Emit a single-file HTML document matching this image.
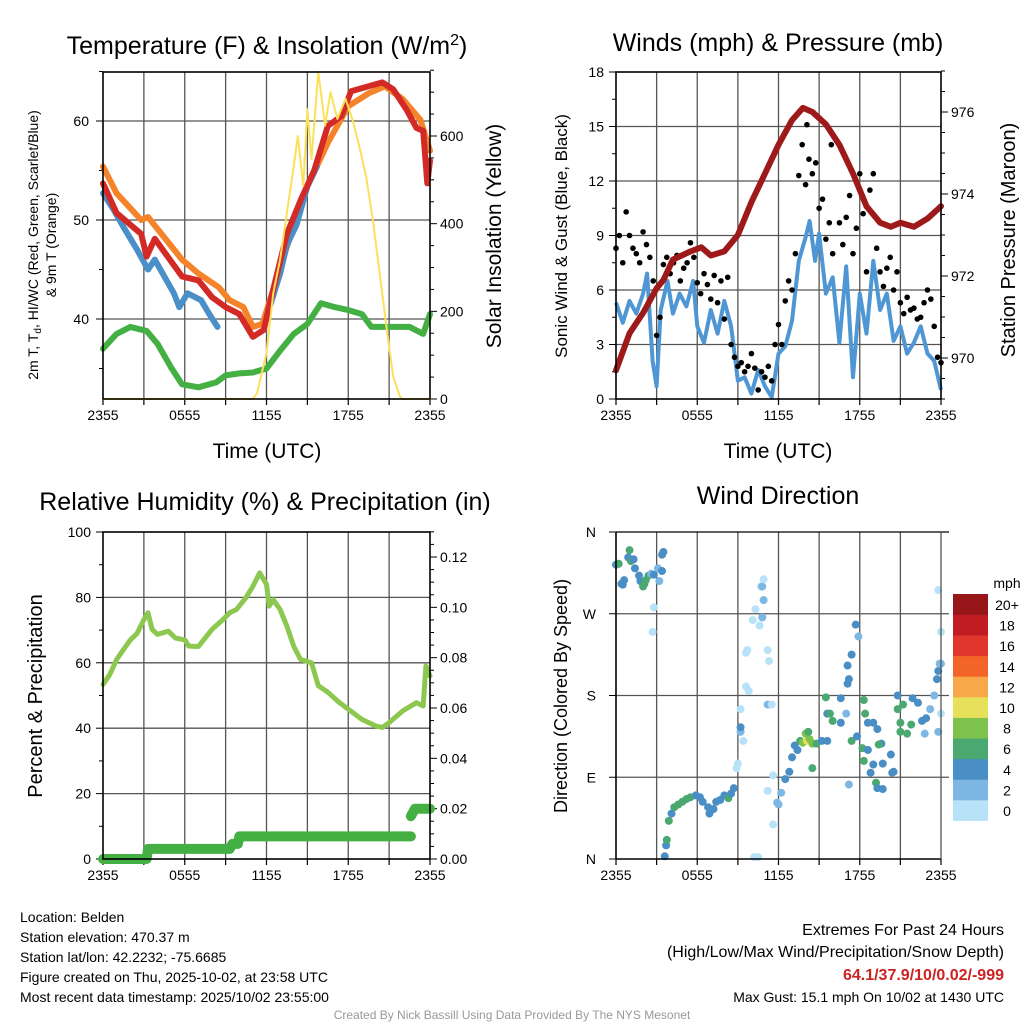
<!DOCTYPE html>
<html><head><meta charset="utf-8">
<style>
html,body{margin:0;padding:0;background:#fff;}
svg{display:block;font-family:"Liberation Sans",Arial,sans-serif;}
</style></head>
<body>
<svg id="c" width="1024" height="1024" viewBox="0 0 1024 1024" xmlns="http://www.w3.org/2000/svg"></svg>
<script>
// ---------- DATA ----------
const tempHours=[0,1,2.8,3.2,3.8,5.8,7,8,9,10,11,11.8,12.3,13.5,14.5,15.5,16.5,17.5,18.2,19.5,20.5,21.3,22.3,23,23.5,23.8,24];
const tempVals=[53.7,50.7,48.6,46.3,48.1,44.3,43.9,42.2,41.2,40.5,38.2,38.9,41.9,48.6,52,55,59.5,60.5,63,63.5,63.9,63.2,61.1,59.3,59,53.7,56];
const t9Hours=[0,1,2.8,3.3,5.8,7,8.5,9.3,10.3,11,11.7,13.5,15,16.5,18,19.5,20.7,22,23.3,24];
const t9Vals=[55.4,52.7,50,50.3,46,44.6,43.2,41.9,41.2,39.2,39.5,47.3,53.4,57.8,61.5,62.8,63.5,62.2,60.1,57];
const hiHours=[0,0.8,1.5,2.5,3.3,3.8,5.2,5.6,6.2,7.2,7.8,8.4,null,12.3,13,13.5,14.2,15,15.7];
const hiVals=[52.7,51,49.3,47,45,46,42.6,41.2,42.6,41.9,40.5,39.2,null,41.5,44.6,47.5,49.5,53.4,55.4];
const tdHours=[0,1,2,3.2,4,5,5.8,7,8.3,9,10,11,12,13,14,15,16,17,18,19,19.7,21,22.5,23.5,24];
const tdVals=[37,38.5,39.2,38.8,37.5,35.1,33.4,33.1,33.6,34.3,34.5,34.6,35,36.8,38.5,39.5,41.6,41.2,40.9,40.5,39.2,39.2,39.2,38.5,40.5];
const solHours=[0,11,11.3,12,12.5,13,13.5,14,14.3,14.7,15,15.3,15.8,16.3,16.7,17.2,17.8,18.3,18.8,19.3,19.8,20.3,20.8,21.3,21.8,22,24];
const solVals=[0,0,13,105,242,318,425,532,600,486,661,547,746,624,700,639,685,639,578,509,410,288,166,51,5,0,0];

const presHours=[0,1,2,3,3.5,4.2,5.5,6.3,7,8,9,10,11,12,13,13.8,14.5,15.5,16.5,17.5,18.5,19.5,20.3,21,22,23,24];
const presVals=[969.7,970.6,971.1,971.7,971.9,972.4,972.6,972.7,972.5,972.6,973.0,973.8,974.5,975.2,975.8,976.1,976.0,975.7,975.2,974.5,973.7,973.3,973.2,973.3,973.2,973.4,973.7];
const windHours=[0,0.5,1,1.5,2,2.3,2.7,3,3.3,3.8,4.2,4.7,5.2,5.7,6,6.5,7,7.5,8,8.5,9,9.5,10,10.5,11,11.5,12,12.5,13,13.5,14,14.3,14.7,15,15.5,16,16.5,17,17.5,18,18.5,19,19.5,20,20.5,21,21.5,22,22.5,23,23.5,24];
const windVals=[5.3,4.2,5.4,4.7,5.8,6.9,2.1,0.7,4.9,6.5,4.7,5.8,5.1,6.5,4.0,3.1,4.9,3.6,5.4,4.0,1.0,1.2,0.3,1.6,0.7,0.1,2.5,2.9,4.3,7.6,8.9,9.8,7.6,9.1,5.8,6.7,3.1,7.3,1.2,5.8,3.6,7.6,4.9,5.8,3.2,4.0,2.5,3.1,4.0,2.5,2.1,0.5];
const gustHours=[0,0.25,0.5,0.75,1,1.25,1.5,1.75,2,2.25,2.5,2.75,3,3.25,3.5,3.75,4,4.25,4.5,4.75,5,5.25,5.5,5.75,6,6.25,6.5,6.75,7,7.25,7.5,7.75,8,8.25,8.5,8.75,9,9.25,9.5,9.75,10,10.25,10.5,10.75,11,11.25,11.5,11.75,12,12.25,12.5,12.75,13,13.25,13.5,13.75,14,14.1,14.25,14.5,14.75,15,15.25,15.5,15.75,15.9,16,16.5,16.75,17,17.25,17.5,17.75,18,18.25,18.5,18.75,19,19.25,19.5,19.75,20,20.25,20.5,20.75,21,21.25,21.5,21.75,22,22.25,22.5,22.75,23,23.25,23.5,23.75,24];
const gustVals=[8.3,9.0,7.5,10.3,9.0,8.3,8.0,7.5,9.2,8.5,7.8,6.5,3.5,4.5,7.4,7.8,6.9,7.5,7.9,6.5,7.2,7.5,8.6,7.8,6.4,5.8,6.9,6.3,5.5,6.8,5.3,6.5,4.4,6.7,3.0,2.3,1.8,2.0,1.5,1.8,2.5,1.7,0.5,1.5,1.2,1.8,1.0,3.0,4.1,3.0,5.4,6.5,6.0,8.0,12.3,14.0,11.8,15.1,13.2,12.4,13.0,10.5,11.0,8.8,9.7,14.0,8.0,9.7,8.5,10.0,11.2,8.0,9.4,12.4,10.2,7.0,11.5,12.4,8.3,7.0,6.2,7.2,7.8,6.0,7.0,5.3,4.7,5.6,4.9,5.0,4.4,4.5,5.3,6.0,5.5,4.0,2.3,2.0];

const rhHours=[0,0.5,1,1.5,2,2.5,3,3.3,3.6,4,4.8,5.3,6,6.3,7,8,8.8,9.3,9.8,10.5,11,11.5,12,12.2,12.5,13,13.5,14,14.5,15.3,15.8,16.5,17.3,18,19,20,20.5,21,22,23,23.5,23.7,24];
const rhVals=[53.4,56.4,61,64,67,69,73.2,75.3,70.2,68.7,69.7,67.6,67,65.1,65,70.2,73.2,75.3,76.3,80,83.4,87.5,84,77.3,79.3,76.3,71.2,65,61,60,53,51,48,45.8,42.7,40.7,40.2,41.7,45.3,47.8,46.8,59,56];
const pcpHours=[0,3.2,3.3,9.3,9.5,9.9,10.0,22.6,null,22.6,22.9,24];
const pcpVals=[0,0,0.004,0.004,0.006,0.006,0.009,0.009,null,0.017,0.02,0.02];

const dirHours=[0,0.2,0.4,0.5,0.6,0.9,1.0,1.1,1.3,1.4,1.7,1.8,2.0,2.1,2.2,2.4,2.6,2.8,3.1,3.2,2.8,2.7,3.4,3.4,3.5,3.6,3.7,3.75,3.9,4.1,4.3,4.6,4.9,5.2,5.5,5.9,6.2,6.4,6.8,6.9,7.2,7.4,7.7,8.0,8.3,8.5,8.7,8.9,9.0,9.2,9.2,9.4,9.2,9.6,9.8,9.7,9.6,10.1,10.3,10.7,10.9,10.6,10.8,10.8,11.2,11.3,10.9,11.2,11.5,10.2,10.5,11.6,11.2,11.6,11.9,12.0,12.2,12.5,12.8,13.0,13.2,13.4,13.6,13.8,14.1,14.0,14.3,14.5,14.2,14.5,14.8,15.2,15.6,15.6,15.5,15.8,16.0,16.6,16.6,17.0,17.1,17.2,17.4,17.1,17.7,17.9,17.4,17.8,18.2,18.3,18.6,19.0,18.3,18.4,18.6,19.0,19.3,19.6,19.4,19.7,20.3,20.8,20.8,21.2,21.0,21.0,21.5,21.8,21.9,22.3,22.6,22.8,22.9,23.2,23.5,23.7,23.8,24.0,24.0,23.8,24.0,23.8,23.9,19.2,19.3,20.4,20.5,17.2,18.8,19.7];
const dirVals=[324,325,303,302,307,332,340,328,330,320,312,306,300,303,307,312,314,313,320,306,277,250,317,335,338,3,15,21,42,50,57,60,63,66,68,70,68,63,57,50,55,63,65,70,67,72,78,100,105,140,145,130,165,190,185,230,227,263,275,300,285,257,300,266,230,218,308,170,170,2,2,92,75,38,62,60,73,88,96,112,125,120,130,128,130,138,132,127,140,100,127,130,130,160,178,160,152,177,150,160,193,198,225,213,258,245,130,135,122,108,120,104,175,160,150,150,143,127,126,105,115,180,165,170,150,140,138,148,177,172,152,138,155,165,180,198,207,215,160,140,250,296,215,84,78,95,96,82,95,77];
const dirSpeeds=[4,6,4,4,4,4,6,6,4,4,4,4,6,6,6,6,2,4,2,2,0,0,4,4,4,4,4,6,6,4,6,6,6,6,6,4,4,4,4,4,4,4,4,4,6,4,4,0,0,2,4,0,0,0,0,0,0,0,0,0,2,0,2,2,0,0,0,2,0,0,0,0,0,0,2,2,2,4,4,4,4,4,6,8,10,8,8,8,6,6,6,4,4,4,6,6,6,4,4,2,4,4,4,4,4,2,6,4,6,6,4,4,6,6,4,4,4,4,6,4,4,4,6,6,6,6,6,6,4,4,4,2,4,2,2,4,4,2,0,2,0,0,2,6,4,4,4,2,4,4];

const cbLabels=["0","2","4","6","8","10","12","14","16","18","20+"];
const cbColors=["#b7e2f7","#7cb8e3","#4a8ec6","#4aa870","#7cc24c","#e6e05a","#f7a848","#f26428","#e0362c","#c01c22","#97161a"];
const timeLabels=["2355","0555","1155","1755","2355"];

// ---------- HELPERS ----------
const svg=document.getElementById('c');
const NS="http://www.w3.org/2000/svg";
function el(tag,attrs,parent){const e=document.createElementNS(NS,tag);for(const k in attrs)e.setAttribute(k,attrs[k]);(parent||svg).appendChild(e);return e;}
function txt(s,x,y,size,anchor,parent,extra){const t=el('text',Object.assign({x:x,y:y,'font-size':size,'text-anchor':anchor||'middle',fill:'#000'},extra||{}),parent);t.textContent=s;return t;}
function lin(d0,d1,p0,p1){return v=>p0+(v-d0)/(d1-d0)*(p1-p0);}
function pathD(hs,vs,sx,sy){let d='',pen=false;for(let i=0;i<hs.length;i++){if(hs[i]===null||vs[i]===null){pen=false;continue;}d+=(pen?'L':'M')+sx(hs[i]).toFixed(1)+','+sy(vs[i]).toFixed(1);pen=true;}return d;}

function frame(g,x0,x1,y0,y1){
  const sx=lin(0,24,x0,x1);
  for(let h=3;h<24;h+=3){el('line',{x1:sx(h),x2:sx(h),y1:y0,y2:y1,stroke:'#555','stroke-width':1.3},g);}
  for(let h=0;h<=24;h+=3){el('line',{x1:sx(h),x2:sx(h),y1:y1,y2:y1+6,stroke:'#000','stroke-width':1.2},g);}
  timeLabels.forEach((s,i)=>{const t=txt(s,sx(i*6),y1+21,14,'middle',g);});
  return sx;
}
function border(g,x0,x1,y0,y1){el('rect',{x:x0,y:y0,width:x1-x0,height:y1-y0,fill:'none',stroke:'#000','stroke-width':1.6},g);}

// ---------- PANEL 1 ----------
(function(){
  const g=el('g',{});  
  const x0=103,x1=430,y0=72,y1=399;
  const sy=lin(40,60,319,121), sy2=lin(0,600,399,136);
  const sx=frame(g,x0,x1,y0,y1);
  [40,50,60].forEach(v=>{el('line',{x1:x0,x2:x1,y1:sy(v),y2:sy(v),stroke:'#555','stroke-width':1.3},g);});
  for(let v=35;v<=65;v+=5){el('line',{x1:x0-(v%10?4:7),x2:x0,y1:sy(v),y2:sy(v),stroke:'#000'},g);}
  [40,50,60].forEach(v=>{const t=txt(String(v),x0-14,sy(v)+5,14,'end',g);});
  for(let v=0;v<=750;v+=50){el('line',{x1:x1,x2:x1+(v%200?4:7),y1:sy2(v),y2:sy2(v),stroke:'#000'},g);}
  [0,200,400,600].forEach(v=>{const t=txt(String(v),x1+10,sy2(v)+5,14,'start',g);});
  const series=[[tdHours,tdVals,'#44b044',6,sy,'dewpoint-line'],[t9Hours,t9Vals,'#f4832a',6,sy,'temp-9m-line'],[hiHours,hiVals,'#4a8fc8',6,sy,'heat-index-line'],[tempHours,tempVals,'#d42a26',6,sy,'temp-2m-line'],[solHours,solVals,'#fde05a',2,sy2,'insolation-line']];
  series.forEach(s=>{const p=el('path',{d:pathD(s[0],s[1],sx,s[4]),fill:'none',stroke:s[2],'stroke-width':s[3],'stroke-linejoin':'round','stroke-linecap':'round'},g);});
  border(g,x0,x1,y0,y1);
  const t=el('text',{x:267,y:54,'font-size':25,'text-anchor':'middle'},g);t.innerHTML='Temperature (F) &amp; Insolation (W/m<tspan dy="-9" font-size="16">2</tspan><tspan dy="9">)</tspan>';
  
  const xl=txt('Time (UTC)',267,458,21,'middle',g);
  const yl=el('text',{transform:'translate(38,245) rotate(-90)','font-size':14,'text-anchor':'middle'},g);yl.innerHTML='2m T, T<tspan dy="3" font-size="10">d</tspan><tspan dy="-3">, HI/WC (Red, Green, Scarlet/Blue)</tspan>';
  
  const yl2=txt('& 9m T (Orange)',0,0,14,'middle',g,{transform:'translate(56,245) rotate(-90)'});
  const yr=txt('Solar Insolation (Yellow)',0,0,21,'middle',g,{transform:'translate(501,236) rotate(-90)'});
})();

// ---------- PANEL 2 ----------
(function(){
  const g=el('g',{});  
  const x0=616,x1=941,y0=72,y1=399;
  const sy=lin(0,18,399,72), sy2=lin(970,976,358,112);
  const sx=frame(g,x0,x1,y0,y1);
  for(let v=3;v<18;v+=3){el('line',{x1:x0,x2:x1,y1:sy(v),y2:sy(v),stroke:'#555','stroke-width':1.3},g);}
  for(let v=0;v<=18;v+=1.5){el('line',{x1:x0-(v%3?4:7),x2:x0,y1:sy(v),y2:sy(v),stroke:'#000'},g);}
  for(let v=0;v<=18;v+=3){const t=txt(String(v),x0-12,sy(v)+5,14,'end',g);}
  for(let v=969;v<=977;v+=0.5){el('line',{x1:x1,x2:x1+(v%2?4:7),y1:sy2(v),y2:sy2(v),stroke:'#000'},g);}
  [970,972,974,976].forEach(v=>{const t=txt(String(v),x1+10,sy2(v)+5,14,'start',g);});
  const w=el('path',{d:pathD(windHours,windVals,sx,sy),fill:'none',stroke:'#4f97d4','stroke-width':4,'stroke-linejoin':'round'},g);
  gustHours.forEach((h,i)=>{const c=el('circle',{cx:sx(h),cy:sy(gustVals[i]),r:2.8,fill:'#000'},g);});
  const p=el('path',{d:pathD(presHours,presVals,sx,sy2),fill:'none',stroke:'#9e1a1a','stroke-width':6,'stroke-linejoin':'round','stroke-linecap':'round'},g);
  border(g,x0,x1,y0,y1);
  const t=txt('Winds (mph) & Pressure (mb)',778,51,25,'middle',g);
  const xl=txt('Time (UTC)',778,458,21,'middle',g);
  const yl=txt('Sonic Wind & Gust (Blue, Black)',0,0,17,'middle',g,{transform:'translate(567,236) rotate(-90)'});
  const yr=txt('Station Pressure (Maroon)',0,0,20,'middle',g,{transform:'translate(1015,240) rotate(-90)'});
})();

// ---------- PANEL 3 ----------
(function(){
  const g=el('g',{});  
  const x0=103,x1=430,y0=532,y1=859;
  const sy=lin(0,100,859,532), sy2=lin(0,0.12,859,557);
  const sx=frame(g,x0,x1,y0,y1);
  for(let v=20;v<100;v+=20){el('line',{x1:x0,x2:x1,y1:sy(v),y2:sy(v),stroke:'#555','stroke-width':1.3},g);}
  for(let v=0;v<=100;v+=10){el('line',{x1:x0-(v%20?4:7),x2:x0,y1:sy(v),y2:sy(v),stroke:'#000'},g);}
  for(let v=0;v<=100;v+=20){const t=txt(String(v),x0-12,sy(v)+5,14,'end',g);}
  for(let i=0;i<=26;i++){const v=i*0.005;el('line',{x1:x1,x2:x1+(i%4?4:7),y1:sy2(v),y2:sy2(v),stroke:'#000'},g);}
  for(let i=0;i<=6;i++){const v=i*0.02;const t=txt(v.toFixed(2),x1+10,sy2(v)+5,14,'start',g);}
  const r=el('path',{d:pathD(rhHours,rhVals,sx,sy),fill:'none',stroke:'#8cc850','stroke-width':5,'stroke-linejoin':'round','stroke-linecap':'round'},g);
  const p=el('path',{d:pathD(pcpHours,pcpVals,sx,sy2),fill:'none',stroke:'#44b044','stroke-width':10,'stroke-linejoin':'round','stroke-linecap':'round'},g);
  border(g,x0,x1,y0,y1);
  const t=txt('Relative Humidity (%) & Precipitation (in)',265,510,25,'middle',g);
  const yl=txt('Percent & Precipitation',0,0,20,'middle',g,{transform:'translate(42,696) rotate(-90)'});
})();

// ---------- PANEL 4 ----------
(function(){
  const g=el('g',{});  
  const x0=616,x1=941,y0=532,y1=859;
  const sy=lin(0,360,859,532);
  const sx=frame(g,x0,x1,y0,y1);
  for(let v=90;v<360;v+=90){el('line',{x1:x0,x2:x1+8,y1:sy(v),y2:sy(v),stroke:'#555','stroke-width':1.3},g);}
  for(let v=0;v<=360;v+=90){el('line',{x1:x0-7,x2:x0,y1:sy(v),y2:sy(v),stroke:'#000'},g);}
  ["N","E","S","W","N"].forEach((s,i)=>{const t=txt(s,x0-20,sy(i*90)+5,14,'end',g);});
  dirHours.forEach((h,i)=>{const k=Math.min(10,Math.round(dirSpeeds[i]/2));const c=el('circle',{cx:sx(h),cy:sy(dirVals[i]),r:4,fill:cbColors[k]},g);});
  el('line',{x1:x0,x2:x0,y1:y0,y2:y1,stroke:'#000','stroke-width':1.6},g);
  el('line',{x1:x0,x2:x1,y1:y1,y2:y1,stroke:'#000','stroke-width':1.6},g);
  el('line',{x1:x0,x2:x1+8,y1:y0,y2:y0,stroke:'#000','stroke-width':1.2},g);
  el('line',{x1:x1,x2:x1,y1:y0,y2:y1,stroke:'#555','stroke-width':1.3},g);
  const t=txt('Wind Direction',778,504,25,'middle',g);
  const yl=txt('Direction (Colored By Speed)',0,0,18,'middle',g,{transform:'translate(567,696) rotate(-90)'});
  const cb=el('g',{},g);  
  const cbTop=594,cbH=20.6;
  cbColors.forEach((c,i)=>{const r=el('rect',{x:953,y:cbTop+(10-i)*cbH,width:35,height:cbH+0.3,fill:c},cb);
    const l=txt(cbLabels[i],1007,cbTop+(10-i)*cbH+16,14,'middle',cb);});
  const u=txt('mph',1007,588,14,'middle',cb);
})();

// ---------- FOOTER TEXT ----------
(function(){
  const g=el('g',{});  
  ["Location: Belden","Station elevation: 470.37 m","Station lat/lon: 42.2232; -75.6685","Figure created on Thu, 2025-10-02, at 23:58 UTC","Most recent data timestamp: 2025/10/02 23:55:00"].forEach((s,i)=>{const t=txt(s,20,922+i*20,14,'start',g);});
  const g2=el('g',{});  
  const a=txt('Extremes For Past 24 Hours',1004,935,16,'end',g2);
  const b=txt('(High/Low/Max Wind/Precipitation/Snow Depth)',1004,957,16,'end',g2);
  const c=txt('64.1/37.9/10/0.02/-999',1004,980,16,'end',g2,{fill:'#cc2222','font-weight':'bold'});
  const d=txt('Max Gust: 15.1 mph On 10/02 at 1430 UTC',1004,1002,14,'end',g2);
  const f=txt('Created By Nick Bassill Using Data Provided By The NYS Mesonet',512,1019,12,'middle',svg,{fill:'#999'});
})();
</script>
</body></html>
